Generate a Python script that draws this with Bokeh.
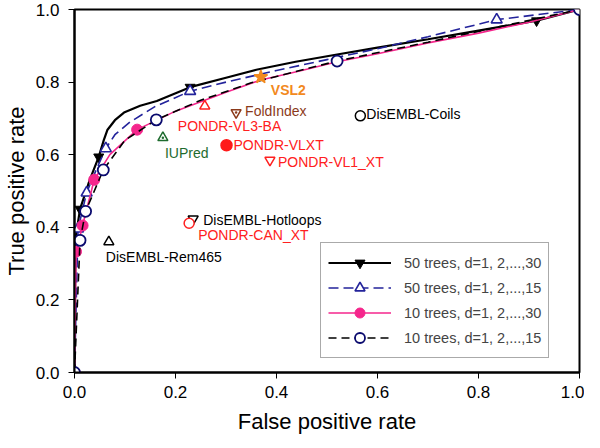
from bokeh.plotting import figure
from bokeh.models import Range1d, Legend, LegendItem, FixedTicker, PrintfTickFormatter
from bokeh.embed import file_html
from bokeh.resources import INLINE
from bokeh.core.properties import value

# ---------------- data ----------------
# 50 trees, d=1..30 (line + marker subset)
t50d30_fpr = [0.0, 0.002, 0.011, 0.03, 0.048, 0.058, 0.065, 0.08, 0.098, 0.13, 0.163, 0.229, 0.30, 0.36, 0.438, 0.52, 0.60, 0.70, 0.80, 0.915, 1.0]
t50d30_tpr = [0.0, 0.37, 0.45, 0.53, 0.594, 0.64, 0.668, 0.695, 0.716, 0.735, 0.748, 0.786, 0.812, 0.834, 0.856, 0.876, 0.895, 0.918, 0.942, 0.969, 1.0]
t50d30_mfpr = [0.002, 0.011, 0.048, 0.229, 0.915]
t50d30_mtpr = [0.37, 0.45, 0.594, 0.786, 0.969]

# 50 trees, d=1..15
t50d15_fpr = [0.0, 0.007, 0.024, 0.045, 0.062, 0.08, 0.11, 0.16, 0.229, 0.30, 0.40, 0.50, 0.60, 0.70, 0.836, 1.0]
t50d15_tpr = [0.0, 0.396, 0.495, 0.565, 0.617, 0.655, 0.69, 0.733, 0.775, 0.80, 0.832, 0.862, 0.892, 0.925, 0.972, 1.0]
t50d15_mfpr = [0.007, 0.024, 0.062, 0.229, 0.836]
t50d15_mtpr = [0.396, 0.495, 0.617, 0.775, 0.972]

# 10 trees, d=1..30
t10d30_fpr = [0.0, 0.003, 0.016, 0.039, 0.07, 0.124, 0.20, 0.30, 0.369, 0.45, 0.52, 0.60, 0.70, 0.80, 0.90, 1.0]
t10d30_tpr = [0.0, 0.333, 0.405, 0.531, 0.60, 0.669, 0.72, 0.772, 0.806, 0.832, 0.856, 0.878, 0.908, 0.935, 0.965, 1.0]
t10d30_mfpr = [0.0, 0.003, 0.016, 0.039, 0.124]
t10d30_mtpr = [0.0, 0.333, 0.405, 0.531, 0.669]

# 10 trees, d=1..15
t10d15_fpr = [0.0, 0.011, 0.022, 0.057, 0.10, 0.162, 0.25, 0.35, 0.52, 0.70, 0.85, 1.0]
t10d15_tpr = [0.0, 0.364, 0.444, 0.558, 0.64, 0.696, 0.75, 0.798, 0.858, 0.91, 0.955, 1.0]
t10d15_mfpr = [0.0, 0.011, 0.022, 0.057, 0.162, 0.52, 1.0]
t10d15_mtpr = [0.0, 0.364, 0.444, 0.558, 0.696, 0.858, 1.0]

legend_labels = ["50 trees, d=1, 2,...,30", "50 trees, d=1, 2,...,15",
                 "10 trees, d=1, 2,...,30", "10 trees, d=1, 2,...,15"]

# other predictors
method_names = ["VSL2", "PONDR-VL3-BA", "FoldIndex", "IUPred", "PONDR-VLXT", "PONDR-VL1_XT",
                "DisEMBL-Coils", "DisEMBL-Hotloops", "PONDR-CAN_XT", "DisEMBL-Rem465"]
method_fpr = [0.369, 0.258, 0.320, 0.175, 0.301, 0.387, 0.566, 0.235, 0.227, 0.068]
method_tpr = [0.814, 0.734, 0.716, 0.647, 0.626, 0.585, 0.707, 0.423, 0.411, 0.360]

x_ticks = [0.0, 0.2, 0.4, 0.6, 0.8, 1.0]
y_ticks = [0.0, 0.2, 0.4, 0.6, 0.8, 1.0]

# ---------------- styles ----------------
FONT = "Liberation Sans"
method_style = [
    # marker, color, fill, size, dx, dy, bold
    ("star", "#F28A1E", "#F28A1E", 14, 10, 13, True),
    ("triangle", "#FF2020", None, 10, -27, 20, False),
    ("inverted_triangle", "#8B3A1A", None, 10, 9, -2, False),
    ("triangle_dot", "#1E6B2E", None, 10, 2, 15, False),
    ("circle", "#FF1A1A", "#FF1A1A", 11, 7, 0, False),
    ("inverted_triangle", "#FF2020", None, 10, 8, 2, False),
    ("circle", "#000000", None, 10, 6, -2, False),
    ("inverted_triangle", "#000000", None, 10, 10, 1, False),
    ("circle", "#FF2020", None, 10, 9, 12, False),
    ("triangle", "#000000", None, 10, -3, 15, False),
]
text_colors = ["#F28A1E", "#FF2020", "#8B3A1A", "#1E6B2E", "#FF2020", "#FF2020",
               "#000000", "#000000", "#FF2020", "#000000"]

p = figure(width=584, height=440, x_range=Range1d(0, 1), y_range=Range1d(0, 1),
           output_backend="svg", toolbar_location=None,
           min_border_left=69, min_border_right=5, min_border_top=9, min_border_bottom=68)
p.background_fill_color = "white"
p.border_fill_color = "white"
p.xgrid.visible = False
p.ygrid.visible = False
p.outline_line_color = "black"
p.outline_line_width = 2
p.outline_line_alpha = 1

for ax, ticks in ((p.xaxis, x_ticks), (p.yaxis, y_ticks)):
    ax.ticker = FixedTicker(ticks=ticks)
    ax.formatter = PrintfTickFormatter(format="%.1f")
    ax.minor_tick_line_color = None
    ax.major_tick_in = 0
    ax.major_tick_out = 6
    ax.major_tick_line_color = "black"
    ax.axis_line_width = 2
    ax.axis_line_color = "black"
    ax.major_label_text_font = FONT
    ax.major_label_text_font_size = "17px"
    ax.major_label_text_color = "black"
    ax.axis_label_text_font = FONT
    ax.axis_label_text_font_size = "22px"
    ax.axis_label_text_font_style = "normal"
    ax.axis_label_text_color = "black"

p.xaxis.axis_label = "False positive rate"
p.yaxis.axis_label = "True positive rate"
p.xaxis.major_label_standoff = 7
p.xaxis.axis_label_standoff = 8
p.yaxis.major_label_standoff = 9
p.yaxis.axis_label_standoff = 4

# curves
l1 = p.line(t50d30_fpr, t50d30_tpr, line_color="black", line_width=2.2)
m1 = p.scatter(t50d30_mfpr, t50d30_mtpr, marker="inverted_triangle", size=10,
               fill_color="black", line_color="black")
l2 = p.line(t50d15_fpr, t50d15_tpr, line_color="#23239B", line_width=1.6, line_dash="10 5")
m2 = p.scatter(t50d15_mfpr, t50d15_mtpr, marker="triangle", size=11,
               fill_color="white", line_color="#23239B", line_width=1.6)
l3 = p.line(t10d30_fpr, t10d30_tpr, line_color="#F5268C", line_width=1.6)
m3 = p.scatter(t10d30_mfpr, t10d30_mtpr, marker="circle", size=11,
               fill_color="#F5268C", line_color="#F5268C")
l4 = p.line(t10d15_fpr, t10d15_tpr, line_color="black", line_width=1.6, line_dash="8 5")
m4 = p.scatter(t10d15_mfpr, t10d15_mtpr, marker="circle", size=11,
               fill_color="white", line_color="#0A0A6E", line_width=1.8)

# other methods
for i, name in enumerate(method_names):
    mk, col, fill, size, dx, dy, bold = method_style[i]
    p.scatter([method_fpr[i]], [method_tpr[i]], marker=mk, size=size,
              line_color=col, fill_color=fill if fill else "white",
              line_width=1.5)
    if name == "FoldIndex":
        p.scatter([method_fpr[i]], [method_tpr[i]], marker="dot", size=10,
                  line_color=col)
    p.text([method_fpr[i]], [method_tpr[i]], text=[name], x_offset=dx, y_offset=dy,
           text_font=value(FONT), text_font_size="14px", text_color=text_colors[i],
           text_baseline="middle", text_align="left",
           text_font_style="bold" if bold else "normal")

legend = Legend(items=[
    LegendItem(label=legend_labels[0], renderers=[l1, m1]),
    LegendItem(label=legend_labels[1], renderers=[l2, m2]),
    LegendItem(label=legend_labels[2], renderers=[l3, m3]),
    LegendItem(label=legend_labels[3], renderers=[l4, m4]),
], location=(246, 14))
legend.glyph_width = 63
legend.glyph_height = 25
legend.label_height = 25
legend.spacing = -7
legend.padding = 7
legend.margin = 0
legend.label_standoff = 13
legend.label_text_font = FONT
legend.label_text_font_size = "14.5px"
legend.border_line_color = "#555555"
legend.border_line_width = 1
legend.background_fill_color = "white"
legend.background_fill_alpha = 1
p.add_layout(legend)

open("out.html", "w").write(file_html(p, INLINE))
